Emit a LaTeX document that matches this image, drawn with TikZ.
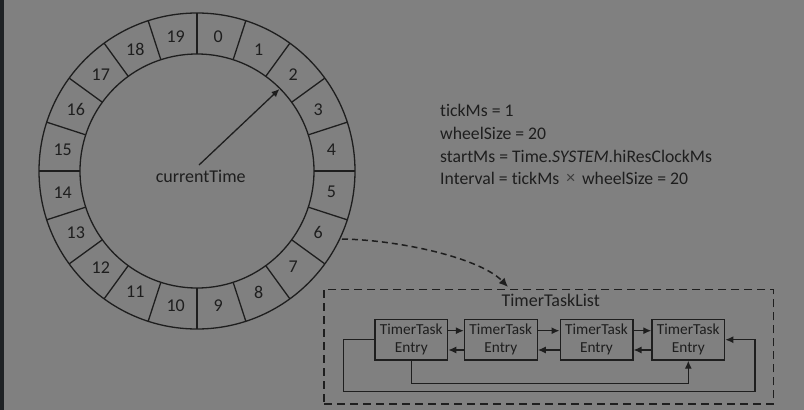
\documentclass[tikz,border=0pt]{standalone}
\usepackage{fontspec}
\setmainfont{Carlito}[Ligatures={NoCommon}]
\usetikzlibrary{arrows.meta,calc}
\definecolor{bg}{HTML}{808080}
\definecolor{ink}{HTML}{1E1E1E}
\definecolor{strip}{HTML}{1F2225}
\begin{document}
\begin{tikzpicture}[x=1pt,y=-1pt,
  ln/.style={draw=ink,line width=1.3pt},
  lbl/.style={text=ink,font=\fontsize{18}{21}\selectfont,inner sep=0pt},
  prm/.style={text=ink,font=\fontsize{17.7}{21}\selectfont,inner sep=0pt},
  entry/.style={draw=ink,line width=1.3pt,minimum width=72.7pt,minimum height=40.7pt,
    inner sep=0pt,align=center,text=ink,font=\fontsize{15.3}{18.3}\selectfont},
  tip/.style={-{Latex[length=8pt,width=7pt]}},
  dsh/.style={draw=ink,line width=1.5pt,dash pattern=on 8pt off 5pt}]
\fill[bg] (0,0) rectangle (804,410);
\fill[strip] (0,0) rectangle (3.5,410);
\useasboundingbox (0,0) rectangle (804,410);
% wheel
\coordinate (c) at (197,171);
\draw[ln] (c) circle[radius=158pt];
\draw[ln] (c) circle[radius=117pt];
\foreach \k in {0,...,19}{
  \pgfmathsetmacro{\a}{-90+18*\k}
  \draw[ln] ($(c)+({117*cos(\a)},{117*sin(\a)})$) -- ($(c)+({158*cos(\a)},{158*sin(\a)})$);
  \pgfmathsetmacro{\b}{-81+18*\k}
  \node[lbl] (s\k) at ($(c)+({136*cos(\b)},{136*sin(\b)})$) {\k};
}
\node[lbl] (ct) at (200.7,176) {currentTime};
\coordinate (hand) at (279.5,89);
\coordinate (hs) at (199,165);
\draw[ln,tip] (hs) -- (hand);
% parameters
\node[prm,anchor=base west] (p1) at (440,116) {tickMs = 1};
\node[prm,anchor=base west] (p2) at (440,139) {wheelSize = 20};
\node[prm,anchor=base west] (p3) at (440,162) {startMs = Time.\textit{SYSTEM}.hiResClockMs};
\node[prm,anchor=base west] (p4) at (440,184.5) {Interval = tickMs \,\raisebox{1pt}{\textcolor{ink!70!bg}{×}}\, wheelSize = 20};
% timer task list
\node[dsh,minimum width=449.3pt,minimum height=114.7pt,inner sep=0pt] (list) at (548.65,346.65) {};
\node[lbl] (lt) at (550.7,300.7) {TimerTaskList};
\coordinate (s6p) at (342,239);
\coordinate (le) at (508,287);
\draw[draw=ink,line width=1.5pt,dash pattern=on 6pt off 4pt,-{Latex[length=9pt,width=8pt]}] (s6p) .. controls (400,240) and (480,258) .. (le);
\node[entry] (b1) at (411.3,339.7) {TimerTask\\Entry};
\node[entry] (b2) at (500.8,339.7) {TimerTask\\Entry};
\node[entry] (b3) at (596.5,339.7) {TimerTask\\Entry};
\node[entry] (b4) at (688.3,339.7) {TimerTask\\Entry};
\foreach \p/\q in {b1/b2,b2/b3,b3/b4}{
  \draw[ln,tip] ($(\p.east)+(0,-9)$) -- ($(\q.west)+(0,-9)$);
  \draw[ln,tip] ($(\q.west)+(0,10.3)$) -- ($(\p.east)+(0,10.3)$);
}
\draw[ln,tip] (b1.south) -- ++(0,22.7) -| (b4.south);
\draw[ln,tip] (b1.west) -- (343.3,339.7) -- (343.3,391.7) -- (755,391.7) -- (755,339.7) -- (b4.east);
\end{tikzpicture}
\end{document}
